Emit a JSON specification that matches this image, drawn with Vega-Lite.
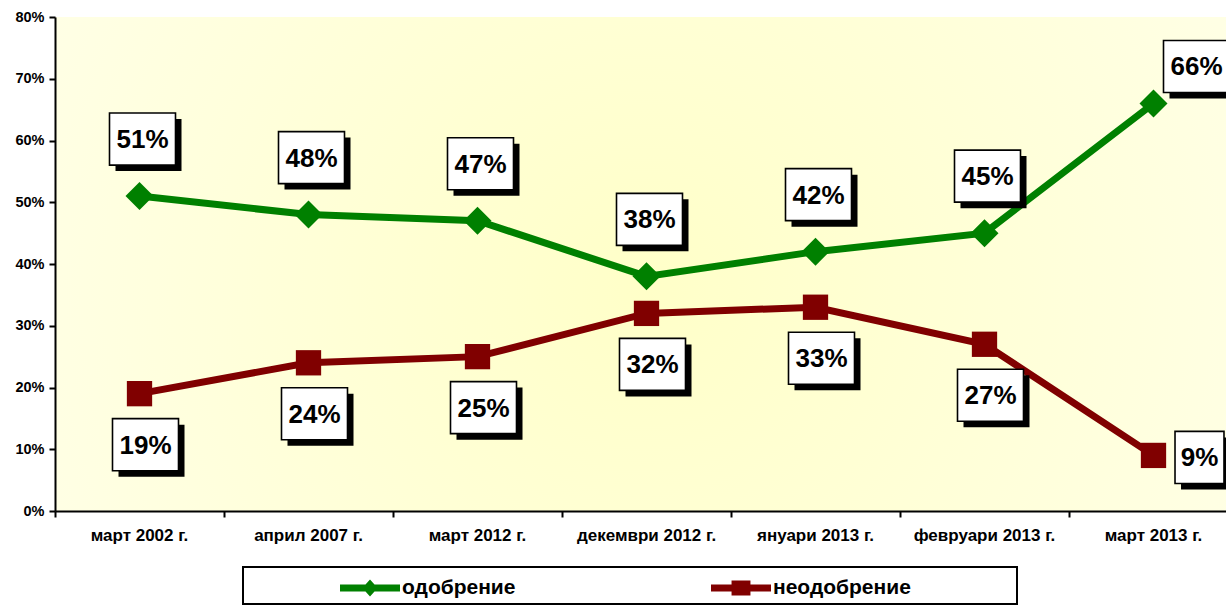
{
  "$schema": "https://vega.github.io/schema/vega-lite/v6.json",
  "width": 1183,
  "height": 494,
  "autosize": {"type": "none"},
  "padding": {"left": 55, "top": 17, "right": 0, "bottom": 94},
  "background": "white",
  "config": {
    "view": {"stroke": "#8c8c8c", "strokeWidth": 1},
    "font": "Liberation Sans"
  },
  "data": {
    "values": [
      {"t": "март 2002 г.", "s": "одобрение", "v": 51},
      {"t": "април 2007 г.", "s": "одобрение", "v": 48},
      {"t": "март 2012 г.", "s": "одобрение", "v": 47},
      {"t": "декември 2012 г.", "s": "одобрение", "v": 38},
      {"t": "януари 2013 г.", "s": "одобрение", "v": 42},
      {"t": "февруари 2013 г.", "s": "одобрение", "v": 45},
      {"t": "март 2013 г.", "s": "одобрение", "v": 66},
      {"t": "март 2002 г.", "s": "неодобрение", "v": 19},
      {"t": "април 2007 г.", "s": "неодобрение", "v": 24},
      {"t": "март 2012 г.", "s": "неодобрение", "v": 25},
      {"t": "декември 2012 г.", "s": "неодобрение", "v": 32},
      {"t": "януари 2013 г.", "s": "неодобрение", "v": 33},
      {"t": "февруари 2013 г.", "s": "неодобрение", "v": 27},
      {"t": "март 2013 г.", "s": "неодобрение", "v": 9}
    ]
  },
  "encoding": {
    "x": {
      "field": "t", "type": "nominal", "sort": null,
      "scale": {"type": "band", "paddingInner": 0, "paddingOuter": 0},
      "axis": {
        "title": null, "labelAngle": 0, "bandPosition": 0, "zindex": 1,
        "domainColor": "black", "domainWidth": 2, "tickColor": "black", "tickWidth": 2, "tickSize": 6,
        "labelFont": "Liberation Sans", "labelFontSize": 17, "labelFontWeight": "bold", "labelColor": "black",
        "labelPadding": 10, "grid": false, "labelLimit": 300
      }
    },
    "y": {
      "field": "v", "type": "quantitative",
      "scale": {"domain": [0, 80], "nice": false},
      "axis": {
        "title": null, "values": [0, 10, 20, 30, 40, 50, 60, 70, 80], "labelExpr": "datum.value + '%'", "zindex": 1,
        "grid": false, "domainColor": "black", "domainWidth": 2, "tickColor": "black", "tickWidth": 2, "tickSize": 6,
        "labelFont": "Liberation Sans", "labelFontSize": 14.5, "labelFontWeight": "bold", "labelColor": "black", "labelPadding": 5
      }
    }
  },
  "layer": [
    {
      "mark": {
        "type": "rect",
        "fill": {
          "gradient": "radial", "x1": 0.5, "y1": 0.52, "r1": 0, "x2": 0.5, "y2": 0.52, "r2": 0.55,
          "stops": [{"offset": 0, "color": "#ffffc8"}, {"offset": 1, "color": "#ffffe5"}]
        },
        "stroke": null
      },
      "encoding": {
        "x": {"value": 0}, "x2": {"value": "width"}, "y": {"value": 0}, "y2": {"value": "height"}
      }
    },
    {
      "mark": {"type": "line", "strokeWidth": 7},
      "encoding": {
        "color": {
          "field": "s", "type": "nominal",
          "scale": {"domain": ["одобрение", "неодобрение"], "range": ["#008000", "#800000"]},
          "legend": {
            "orient": "none", "legendX": 188, "legendY": 550, "direction": "horizontal", "title": null,
            "padding": 6, "symbolOffset": 106, "labelOffset": 17, "columnPadding": 5,
            "labelFont": "Liberation Sans", "labelFontSize": 21, "labelFontWeight": "bold", "labelColor": "black",
            "labelLimit": 600, "symbolSize": 900, "strokeColor": "black", "fillColor": "white",
            "labelExpr": "datum.label + '\u00a0\u00a0\u00a0\u00a0\u00a0\u00a0\u00a0\u00a0\u00a0\u00a0\u00a0\u00a0\u00a0\u00a0\u00a0\u00a0\u00a0\u200b'",
            "encode": {
              "legend": {"update": {"strokeWidth": {"value": 2}}},
              "symbols": {
                "update": {
                  "shape": {"signal": "datum.value === 'одобрение' ? 'M-2,-0.233L-0.3,-0.233L0,-0.57L0.3,-0.233L2,-0.233L2,0.233L0.3,0.233L0,0.57L-0.3,0.233L-2,0.233Z' : 'M-2,-0.233L-0.63,-0.233L-0.63,-0.5L0.63,-0.5L0.63,-0.233L2,-0.233L2,0.233L0.63,0.233L0.63,0.5L-0.63,0.5L-0.63,0.233L-2,0.233Z'"},
                  "fill": {"signal": "datum.value === 'одобрение' ? '#008000' : '#800000'"},
                  "strokeWidth": {"value": 0},
                  "opacity": {"value": 1}
                }
              }
            }
          }
        }
      }
    },
    {
      "mark": {
        "type": "point", "filled": true, "opacity": 1,
        "shape": {"expr": "datum.s === 'одобрение' ? 'diamond' : 'square'"},
        "size": {"expr": "datum.s === 'одобрение' ? 784 : 640"}
      },
      "encoding": {
        "color": {"field": "s", "type": "nominal", "scale": {"domain": ["одобрение", "неодобрение"], "range": ["#008000", "#800000"]}}
      }
    },
    {
      "mark": {
        "type": "point", "filled": true, "opacity": 1, "color": "black", "size": 4356,
        "shape": {"expr": "datum.v < 10 ? 'M-0.742,-0.788L0.742,-0.788L0.742,0.788L-0.742,0.788Z' : 'M-1,-0.788L1,-0.788L1,0.788L-1,0.788Z'"},
        "xOffset": {"expr": "(datum.t === 'март 2013 г.' ? (datum.s === 'одобрение' ? 43 : 46) : (datum.s === 'одобрение' ? 3 : 6)) + 6"},
        "yOffset": {"expr": "(datum.t === 'март 2013 г.' ? (datum.s === 'одобрение' ? -37 : 2) : (datum.s === 'одобрение' ? -57 : 51)) + 6"}
      }
    },
    {
      "mark": {
        "type": "point", "filled": false, "opacity": 1, "fill": "white", "fillOpacity": 1, "stroke": "black", "strokeWidth": 1.6, "size": 4356,
        "shape": {"expr": "datum.v < 10 ? 'M-0.742,-0.788L0.742,-0.788L0.742,0.788L-0.742,0.788Z' : 'M-1,-0.788L1,-0.788L1,0.788L-1,0.788Z'"},
        "xOffset": {"expr": "datum.t === 'март 2013 г.' ? (datum.s === 'одобрение' ? 43 : 46) : (datum.s === 'одобрение' ? 3 : 6)"},
        "yOffset": {"expr": "datum.t === 'март 2013 г.' ? (datum.s === 'одобрение' ? -37 : 2) : (datum.s === 'одобрение' ? -57 : 51)"}
      }
    },
    {
      "mark": {
        "type": "text", "font": "Liberation Sans", "fontSize": 26, "fontWeight": "bold", "color": "black",
        "align": "center", "baseline": "middle",
        "text": {"expr": "datum.v + '%'"},
        "xOffset": {"expr": "datum.t === 'март 2013 г.' ? (datum.s === 'одобрение' ? 43 : 46) : (datum.s === 'одобрение' ? 3 : 6)"},
        "yOffset": {"expr": "(datum.t === 'март 2013 г.' ? (datum.s === 'одобрение' ? -37 : 2) : (datum.s === 'одобрение' ? -57 : 51)) + 1"}
      }
    }
  ]
}
